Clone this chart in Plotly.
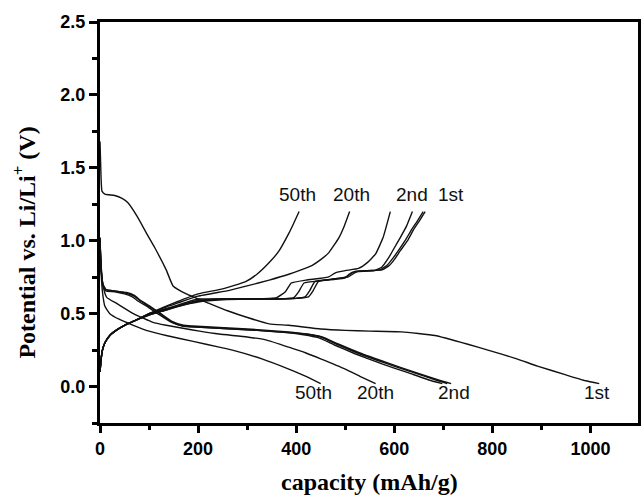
import plotly.graph_objects as go

# ---------------- data (capacity mAh/g, potential V) ----------------
# discharge curves
d1_x = [0, 2, 4, 10, 30, 45, 57, 77, 95, 112, 135, 149, 176, 223, 260, 304, 345, 385, 450, 500, 550, 615, 683, 750, 791, 850, 892, 950, 990, 1018]
d1_y = [1.68, 1.45, 1.34, 1.32, 1.31, 1.29, 1.26, 1.16, 1.05, 0.95, 0.80, 0.69, 0.635, 0.57, 0.52, 0.47, 0.43, 0.42, 0.395, 0.385, 0.38, 0.375, 0.35, 0.29, 0.25, 0.19, 0.14, 0.08, 0.04, 0.02]

d2_x = [0, 1, 3, 6, 12, 30, 54, 70, 81, 100, 122, 148, 170, 189, 243, 300, 385, 420, 453, 487, 530, 588, 640, 690, 716]
d2_y = [1.02, 0.90, 0.78, 0.70, 0.665, 0.655, 0.64, 0.62, 0.59, 0.55, 0.50, 0.44, 0.415, 0.41, 0.40, 0.39, 0.37, 0.36, 0.34, 0.29, 0.23, 0.16, 0.10, 0.045, 0.02]

d5_x = [0, 1, 3, 6, 12, 30, 54, 70, 81, 100, 122, 148, 170, 189, 243, 300, 385, 420, 450, 483, 525, 582, 635, 685, 708]
d5_y = [1.02, 0.90, 0.78, 0.70, 0.665, 0.655, 0.645, 0.625, 0.595, 0.555, 0.505, 0.445, 0.42, 0.415, 0.405, 0.395, 0.375, 0.36, 0.34, 0.29, 0.23, 0.16, 0.10, 0.045, 0.02]

d10_x = [0, 1, 3, 6, 12, 30, 50, 66, 78, 98, 120, 146, 168, 187, 243, 300, 380, 415, 445, 478, 520, 575, 628, 676, 698]
d10_y = [1.02, 0.90, 0.77, 0.69, 0.655, 0.65, 0.635, 0.615, 0.585, 0.545, 0.495, 0.44, 0.415, 0.41, 0.40, 0.39, 0.37, 0.355, 0.335, 0.285, 0.225, 0.155, 0.095, 0.04, 0.02]

d20_x = [0, 2, 5, 10, 14, 34, 68, 108, 135, 169, 203, 243, 300, 338, 385, 420, 450, 500, 530, 562]
d20_y = [1.00, 0.85, 0.72, 0.64, 0.61, 0.57, 0.50, 0.44, 0.42, 0.40, 0.38, 0.36, 0.34, 0.32, 0.27, 0.23, 0.19, 0.12, 0.07, 0.02]

d50_x = [0, 2, 5, 10, 20, 40, 68, 100, 135, 190, 243, 270, 330, 385, 420, 450]
d50_y = [1.00, 0.80, 0.65, 0.55, 0.50, 0.46, 0.42, 0.38, 0.35, 0.31, 0.27, 0.25, 0.19, 0.12, 0.07, 0.02]

# charge curves
c1_x = [0, 2, 5, 10, 20, 35, 50, 70, 100, 130, 160, 200, 250, 300, 350, 400, 425, 435, 445, 470, 505, 515, 525, 550, 575, 590, 600, 612, 627, 640, 650, 663]
c1_y = [0.10, 0.18, 0.25, 0.30, 0.35, 0.39, 0.42, 0.45, 0.49, 0.52, 0.55, 0.58, 0.595, 0.60, 0.60, 0.605, 0.615, 0.66, 0.72, 0.735, 0.75, 0.77, 0.79, 0.795, 0.80, 0.83, 0.87, 0.93, 1.00, 1.08, 1.13, 1.20]

c2_x = [0, 2, 5, 10, 20, 35, 50, 70, 100, 130, 160, 200, 250, 300, 350, 400, 418, 428, 438, 470, 500, 510, 520, 545, 570, 585, 595, 608, 622, 636, 646, 659]
c2_y = [0.10, 0.18, 0.25, 0.30, 0.35, 0.39, 0.42, 0.45, 0.49, 0.52, 0.55, 0.585, 0.60, 0.60, 0.60, 0.605, 0.615, 0.66, 0.72, 0.735, 0.75, 0.77, 0.79, 0.795, 0.80, 0.83, 0.87, 0.93, 1.00, 1.08, 1.13, 1.20]

c5_x = [0, 2, 5, 10, 20, 35, 50, 70, 100, 130, 160, 200, 250, 300, 350, 395, 405, 416, 450, 500, 508, 515, 560, 575, 588, 600, 612, 625, 637]
c5_y = [0.10, 0.18, 0.25, 0.30, 0.35, 0.39, 0.42, 0.45, 0.495, 0.525, 0.555, 0.59, 0.60, 0.60, 0.60, 0.61, 0.65, 0.71, 0.725, 0.745, 0.77, 0.785, 0.795, 0.82, 0.88, 0.95, 1.02, 1.10, 1.20]

c10_x = [0, 2, 5, 10, 20, 35, 50, 70, 100, 130, 160, 200, 250, 300, 360, 378, 390, 420, 465, 480, 500, 527, 545, 562, 577, 592]
c10_y = [0.10, 0.18, 0.25, 0.30, 0.35, 0.39, 0.42, 0.45, 0.50, 0.53, 0.56, 0.60, 0.60, 0.60, 0.61, 0.65, 0.71, 0.73, 0.75, 0.78, 0.795, 0.81, 0.85, 0.91, 1.02, 1.20]

c20_x = [0, 2, 5, 10, 20, 35, 50, 70, 100, 130, 160, 200, 264, 300, 345, 385, 410, 432, 450, 467, 487, 498, 509]
c20_y = [0.10, 0.18, 0.25, 0.30, 0.35, 0.39, 0.42, 0.45, 0.50, 0.54, 0.575, 0.62, 0.66, 0.69, 0.73, 0.77, 0.80, 0.83, 0.87, 0.92, 1.02, 1.10, 1.20]

c50_x = [0, 2, 5, 10, 20, 35, 50, 70, 100, 130, 160, 200, 250, 297, 320, 345, 365, 385, 395, 406]
c50_y = [0.10, 0.18, 0.25, 0.30, 0.35, 0.39, 0.42, 0.45, 0.50, 0.545, 0.585, 0.635, 0.67, 0.72, 0.77, 0.85, 0.93, 1.05, 1.12, 1.20]

curves = [
    (d1_x, d1_y), (d2_x, d2_y), (d5_x, d5_y), (d10_x, d10_y), (d20_x, d20_y), (d50_x, d50_y),
    (c1_x, c1_y), (c2_x, c2_y), (c5_x, c5_y), (c10_x, c10_y), (c20_x, c20_y), (c50_x, c50_y),
]

# curve labels
top_label_text = ["50th", "20th", "2nd", "1st"]
top_label_x = [402, 512, 637, 716]
top_label_y = [1.32, 1.32, 1.32, 1.32]
bot_label_text = ["50th", "20th", "2nd", "1st"]
bot_label_x = [436, 561, 722, 1014]
bot_label_y = [-0.04, -0.04, -0.04, -0.04]

x_ticks = [0, 200, 400, 600, 800, 1000]
y_ticks = [0.0, 0.5, 1.0, 1.5, 2.0, 2.5]

# ---------------- figure ----------------
fig = go.Figure()
for cx, cy in curves:
    fig.add_trace(go.Scatter(x=cx, y=cy, mode="lines",
                             line=dict(color="#111111", width=1.4, shape="spline", smoothing=0.4),
                             showlegend=False, hoverinfo="skip"))

for t, x, y in zip(top_label_text + bot_label_text, top_label_x + bot_label_x, top_label_y + bot_label_y):
    fig.add_annotation(x=x, y=y, text=t, showarrow=False, xref="x", yref="y",
                       font=dict(family="Liberation Sans, Arial", size=19, color="#111111"))

axis_common = dict(showline=True, linecolor="black", linewidth=3, mirror=True,
                   ticks="outside", tickcolor="black", tickwidth=2.5, showgrid=False, zeroline=False,
                   tickfont=dict(family="Liberation Sans, Arial", size=18, color="black", weight="bold"))

fig.update_xaxes(range=[0, 1097], tickvals=x_ticks, ticklen=7,
                 minor=dict(ticks="outside", dtick=100, tick0=0, ticklen=4, tickwidth=2.5, tickcolor="black"),
                 **axis_common)
fig.update_yaxes(range=[-0.25, 2.5], tickvals=y_ticks, tickformat=".1f", ticklen=8,
                 minor=dict(ticks="outside", dtick=0.25, tick0=0, ticklen=5, tickwidth=2.5, tickcolor="black"),
                 **axis_common)

fig.add_annotation(text="capacity (mAh/g)", xref="paper", yref="paper", x=0.5, y=0, yshift=-59,
                   showarrow=False, yanchor="middle",
                   font=dict(family="Liberation Serif, Times New Roman", size=24, color="black", weight="bold"))
fig.add_annotation(text="Potential vs. Li/Li<sup>+</sup> (V)", xref="paper", yref="paper", x=0, xshift=-76,
                   y=0.45, textangle=-90, showarrow=False, xanchor="center", yanchor="middle",
                   font=dict(family="Liberation Serif, Times New Roman", size=24, color="black", weight="bold"))

fig.update_layout(width=643, height=495, margin=dict(l=100, r=2, t=22, b=72),
                  plot_bgcolor="white", paper_bgcolor="white")

fig.write_html("out.html", config={"displayModeBar": False},
               post_script="document.body.style.margin='0px';")
